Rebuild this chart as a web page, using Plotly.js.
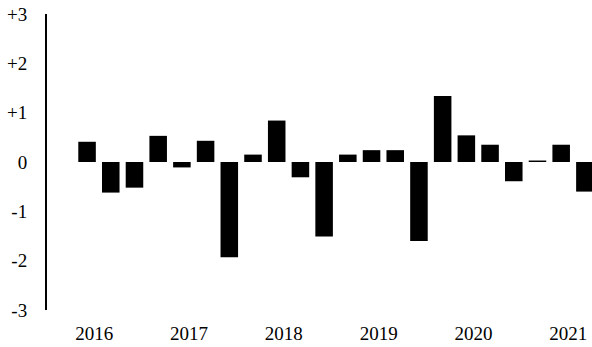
<!DOCTYPE html>
<html>
<head>
<meta charset="utf-8">
<script src="https://cdn.plot.ly/plotly-3.0.1.min.js"></script>
<style>html,body{margin:0;padding:0;background:#fff;}#chart{width:592px;height:347px;}</style>
</head>
<body>
<div id="chart"></div>
<script>
// Quarterly values, 2016 Q1 .. 2021 Q2
const quarters = ["2016Q1","2016Q2","2016Q3","2016Q4","2017Q1","2017Q2","2017Q3","2017Q4",
  "2018Q1","2018Q2","2018Q3","2018Q4","2019Q1","2019Q2","2019Q3","2019Q4",
  "2020Q1","2020Q2","2020Q3","2020Q4","2021Q1","2021Q2"];
const values = [0.41,-0.62,-0.52,0.53,-0.11,0.43,-1.93,0.15,
  0.84,-0.31,-1.51,0.15,0.24,0.24,-1.60,1.34,
  0.54,0.35,-0.39,0.03,0.35,-0.60];
const yearLabels = ["2016","2017","2018","2019","2020","2021"];
const yTickVals = [3,2,1,0,-1,-2,-3];
const yTickText = ["+3","+2","+1","0","-1","-2","-3"];

const xIdx = quarters.map((q,i)=>i);
const yearTickVals = yearLabels.map((y,i)=>i*4+0.3);
const FONT = '"Liberation Serif", "Times New Roman", serif';

Plotly.newPlot('chart',[{
  type:'bar', x:xIdx, y:values, width:0.74,
  marker:{color:'#000000', line:{width:0}},
  hoverinfo:'skip'
}],{
  width:592, height:347,
  margin:{l:47,r:0,t:14,b:37},
  paper_bgcolor:'#fff', plot_bgcolor:'#fff',
  showlegend:false,
  font:{family:FONT, color:'#000'},
  xaxis:{range:[-1.69,21.3], tickvals:yearTickVals, ticktext:yearLabels,
    showgrid:false, zeroline:false, showline:false, ticks:'',
    tickfont:{size:19, family:FONT, color:'#000'},
    ticklabelstandoff:10},
  yaxis:{range:[-3,3], tickvals:yTickVals, ticktext:yTickText,
    showgrid:false, zeroline:false, showline:true, linecolor:'#000', linewidth:2,
    ticks:'', tickfont:{size:19, family:FONT, color:'#000'},
    ticklabelstandoff:14}
},{staticPlot:true});
</script>
</body>
</html>
